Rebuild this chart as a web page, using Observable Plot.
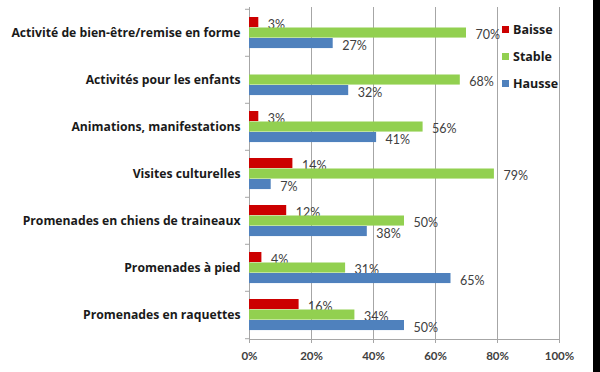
<!DOCTYPE html>
<html>
<head>
<meta charset="utf-8">
<script src="https://cdn.jsdelivr.net/npm/d3@7"></script>
<script src="https://cdn.jsdelivr.net/npm/@observablehq/plot@0.6"></script>
<style>
  html, body { margin: 0; padding: 0; background: #fff; }
  #wrap { position: relative; width: 600px; height: 372px; overflow: hidden; background: #fff; font-family: Lato, "Open Sans", sans-serif; }
  #legend { position: absolute; left: 502px; top: 16px; }
  .item { display: flex; align-items: center; height: 27px; font-family: "Open Sans", sans-serif; font-weight: bold; font-size: 12.5px; color: #1a1a1a; }
  .sw { width: 7px; height: 7px; margin-right: 4px; }
  #strip { position: absolute; left: 593px; top: 0; width: 7px; height: 372px; background: #000; }
</style>
</head>
<body>
<div id="wrap"><div id="chart"></div><div id="legend"></div><div id="strip"></div></div>
<script>
const categories = [
  "Activité de bien-être/remise en forme",
  "Activités pour les enfants",
  "Animations, manifestations",
  "Visites culturelles",
  "Promenades en chiens de traineaux",
  "Promenades à pied",
  "Promenades en raquettes"
];
const series = ["Baisse", "Stable", "Hausse"];
const colors = ["#CC0000", "#92D050", "#4F81BD"];
const baisse = [3, null, 3, 14, 12, 4, 16];
const stable = [70, 68, 56, 79, 50, 31, 34];
const hausse = [27, 32, 41, 7, 38, 65, 50];
const xTicks = [0, 20, 40, 60, 80, 100];

const values = [baisse, stable, hausse];
const rows = [];
series.forEach((s, k) => categories.forEach((c, i) => {
  if (values[k][i] != null) rows.push({category: c, series: s, k, value: values[k][i]});
}));

const height = 372, marginTop = 7, marginBottom = 33;
const step = (height - marginTop - marginBottom) / categories.length;
const padTop = 8, barH = 10.5;
const gray = "#a6a6a6";

const marks = [
  Plot.gridX({ticks: xTicks.slice(1), stroke: gray, strokeOpacity: 1}),
  Plot.ruleX([0], {stroke: gray}),
  Plot.frame({anchor: "bottom", stroke: gray}),
  Plot.axisY({tickSize: 0, tickPadding: 9, fontWeight: "bold", fontSize: 12.2, fontFamily: "'Open Sans', sans-serif", fill: "#1a1a1a", label: null}),
  Plot.axisY({tickSize: 4, tickFormat: () => "", dy: -step / 2, stroke: gray, label: null}),
  Plot.axisY({ticks: [categories[categories.length - 1]], tickSize: 4, tickFormat: () => "", dy: step / 2, stroke: gray, label: null}),
  Plot.axisX({ticks: xTicks, tickFormat: d => d + "%", tickSize: 4, tickPadding: 8, stroke: gray, fill: "#404040", fontWeight: "bold", fontSize: 11.5, label: null})
];
series.forEach((s, k) => {
  const d = rows.filter(r => r.k === k);
  marks.push(Plot.barX(d, {
    y: "category", x: "value", fill: colors[k],
    insetTop: padTop + k * barH,
    insetBottom: step - padTop - (k + 1) * barH
  }));
  marks.push(Plot.text(d, {
    y: "category", x: "value", text: r => r.value + "%",
    textAnchor: "start", dx: 9, dy: padTop + (k + 0.5) * barH - step / 2 + 2,
    fill: "#404040", fontSize: 12.5
  }));
});

const chart = Plot.plot({
  width: 600, height,
  marginLeft: 249, marginRight: 41, marginTop, marginBottom,
  style: {fontFamily: "Lato, 'Open Sans', sans-serif", background: "transparent"},
  x: {domain: [0, 100], axis: null},
  y: {domain: categories, padding: 0, axis: null},
  marks
});
document.getElementById("chart").appendChild(chart);

const legend = document.getElementById("legend");
series.forEach((s, k) => {
  const it = document.createElement("div");
  it.className = "item";
  const sw = document.createElement("span");
  sw.className = "sw";
  sw.style.background = colors[k];
  it.appendChild(sw);
  it.appendChild(document.createTextNode(s));
  legend.appendChild(it);
});
</script>
</body>
</html>
